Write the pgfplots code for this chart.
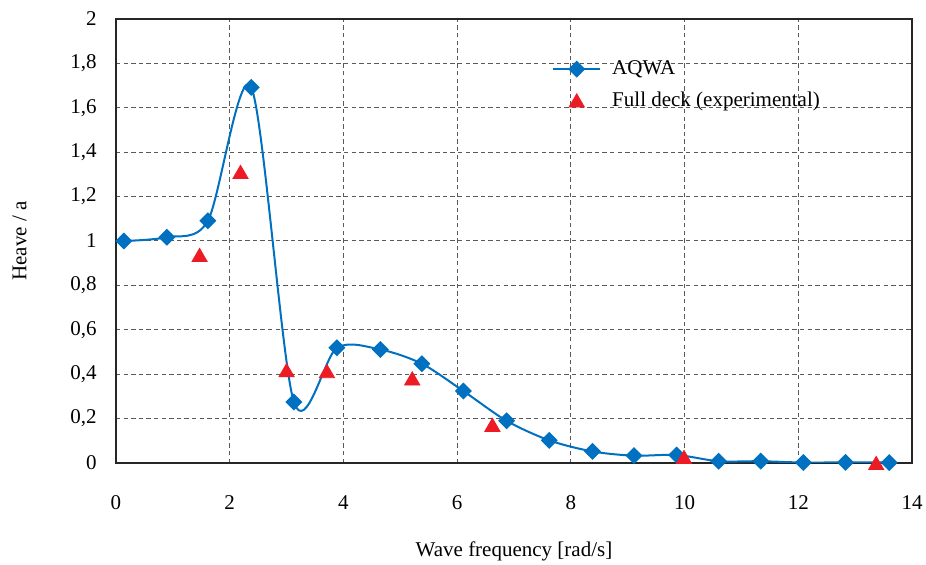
\documentclass[border=0pt]{standalone}
\usepackage{fontspec}
\setmainfont{Liberation Serif}
\usepackage{pgfplots}
\pgfplotsset{compat=1.18}

\definecolor{aqwablue}{RGB}{0,112,192}
\definecolor{expred}{RGB}{237,28,36}
\definecolor{gridgray}{RGB}{90,90,90}

\begin{document}
\fontsize{10.5}{12.6}\selectfont
\begin{tikzpicture}
  \begin{axis}[
    name=ax,
    scale only axis,
    width=398pt,
    height=222pt,
    xmin=0, xmax=14,
    ymin=0, ymax=2,
    xtick={0,2,...,14},
    ytick={0,0.2,...,2},
    major tick length=0pt,
    axis line style={line width=0.9pt, black!85},
    grid=major,
    grid style={dash pattern=on 2.2pt off 1.6pt, gridgray, line width=0.5pt},
    /pgf/number format/assume math mode=true,
    /pgf/number format/use comma,
    /pgf/number format/fixed,
    /pgf/number format/precision=1,
    xticklabel style={yshift=-12.5pt},
    yticklabel style={xshift=-6pt},
    xlabel={Wave frequency [rad/s]},
    ylabel={Heave / a},
    xlabel style={at={(axis description cs:0.5,-0.2)}, anchor=center},
    ylabel style={at={(axis description cs:-0.121,0.5)}, anchor=center},
    legend style={at={(axis description cs:0.54,0.925)}, anchor=north west,
      draw=none, fill=none, row sep=3.2pt, font=\fontsize{10.5}{12.6}\selectfont},
    legend cell align=left,
    ]
    \addplot[aqwablue, line width=1pt, smooth, tension=0.5,
      mark=square*, mark size=2.5pt, mark options={rotate=45, solid, fill=aqwablue},
      legend image code/.code={
        \path (0pt,0pt) (27pt,0pt);
        \draw[aqwablue, line width=1pt, mark=square*, mark size=2.5pt,
          mark options={rotate=45, fill=aqwablue}, mark repeat=2, mark phase=2]
          plot coordinates {(0pt,0pt) (11.75pt,0pt) (23.5pt,0pt)};}]
      coordinates {
        (0.137, 1.000)
        (0.894, 1.017)
        (1.616, 1.091)
        (2.379, 1.692)
        (3.129, 0.275)
        (3.886, 0.519)
        (4.650, 0.511)
        (5.380, 0.447)
        (6.110, 0.324)
        (6.870, 0.190)
        (7.620, 0.102)
        (8.380, 0.052)
        (9.110, 0.033)
        (9.860, 0.036)
        (10.60, 0.008)
        (11.34, 0.008)
        (12.09, 0.002)
        (12.83, 0.003)
        (13.60, 0.002)
      };
    \addlegendentry{AQWA}
    \addplot[only marks, mark=triangle*, mark size=4.4pt, expred,
      mark options={fill=expred, draw=expred, yshift=-1.1pt},
      legend image code/.code={
        \path (0pt,0pt) (27pt,0pt);
        \draw[expred, mark=triangle*, mark size=4.4pt,
          mark options={fill=expred, draw=expred}]
          plot coordinates {(11.75pt,-0.8pt)};}]
      coordinates {
        (1.47, 0.937)
        (2.19, 1.311)
        (3.00, 0.418)
        (3.71, 0.414)
        (5.21, 0.381)
        (6.62, 0.172)
        (9.99, 0.027)
        (13.37, 0.000)
      };
    \addlegendentry{Full deck (experimental)}
  \end{axis}
  \pgfresetboundingbox
  \path (ax.south west) ++(-58pt,-51pt);
  \path (ax.north east) ++(7pt,9.5pt);
\end{tikzpicture}
\end{document}
